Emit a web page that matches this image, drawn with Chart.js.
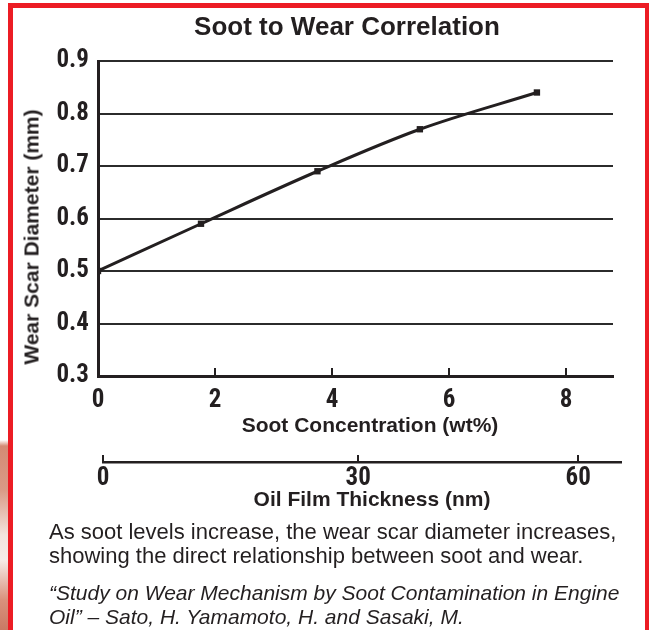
<!DOCTYPE html>
<html>
<head>
<meta charset="utf-8">
<script src="https://cdn.jsdelivr.net/npm/chart.js@4.4.1/dist/chart.umd.min.js"></script>
<style>
  html, body { margin: 0; padding: 0; background: #fff; }
  body { width: 649px; height: 630px; position: relative; overflow: hidden;
         font-family: "Liberation Sans", Arial, Helvetica, sans-serif; color: #231f20; }
  #photo { position: absolute; left: 0; top: 440px; width: 8px; height: 190px;
           background: linear-gradient(to bottom, #fff 0px, #d48a74 6px, #d99a86 50px, #f3e3dd 95px, #f6ece8 120px, #d9917c 160px, #c97a64 190px); }
  #frame { position: absolute; left: 8px; top: 3px; width: 642px; height: 700px;
           border: 5px solid #ec1c24; box-sizing: border-box; }
  .t { position: absolute; white-space: nowrap; line-height: 1; }
  .c { transform: translateX(-50%); }
  #c1 { position: absolute; left: 0; top: 0; }
  #c2 { position: absolute; left: 0; top: 440px; }
</style>
</head>
<body>
<div id="photo"></div>
<div id="frame"></div>
<canvas id="c1" width="649" height="416"></canvas>
<canvas id="c2" width="649" height="80"></canvas>

<div class="t c" id="title" style="left:347px; top:13px; font-size:26px; font-weight:bold;">Soot to Wear Correlation</div>
<div class="t" id="ytitle" style="left:31px; top:237px; font-size:21px; font-weight:bold; transform: translate(-50%,-50%) rotate(-90deg);">Wear Scar Diameter (mm)</div>
<div class="t c" id="xtitle" style="left:370px; top:414px; font-size:21px; font-weight:bold;">Soot Concentration (wt%)</div>
<div class="t c" id="x2title" style="left:372px; top:488px; font-size:21px; font-weight:bold;">Oil Film Thickness (nm)</div>

<div style="position:absolute; left:49px; top:520px; font-size:22px; line-height:24px; white-space:nowrap;">As soot levels increase, the wear scar diameter increases,<br>showing the direct relationship between soot and wear.</div>
<div style="position:absolute; left:49px; top:581px; font-size:21px; line-height:24px; white-space:nowrap; font-style:italic;">“Study on Wear Mechanism by Soot Contamination in Engine<br>Oil” – Sato, H. Yamamoto, H. and Sasaki, M.</div>

<script>
// ---- data ----
const sootConcentration = [0, 1.76, 3.75, 5.5, 7.5];      // wt%
const wearScarDiameter  = [0.50, 0.59, 0.69, 0.77, 0.84]; // mm
const yTickValues = [0.3, 0.4, 0.5, 0.6, 0.7, 0.8, 0.9];
const xTickValues = [0, 2, 4, 6, 8];
// secondary scale: oil film thickness labels and the soot concentration (wt%) they line up with
const filmTickLabels = ['0', '30', '60'];
const filmTickAtSoot = [0.1, 4.45, 8.2];

const INK = '#231f20';
const tickFont = { family: '"Roboto Condensed", Roboto, "DejaVu Sans Condensed", sans-serif', weight: 'bold', size: 25 };

const innerTicks = {
  id: 'innerTicks',
  afterDraw(chart, args, opts) {
    const s = chart.scales.x, ctx = chart.ctx, bottom = chart.chartArea.bottom;
    ctx.save();
    ctx.strokeStyle = INK; ctx.lineWidth = 2;
    s.ticks.forEach(t => {
      if (opts.skipFirst && t.value === s.min) return;
      const px = Math.round(s.getPixelForValue(t.value));
      ctx.beginPath(); ctx.moveTo(px, bottom); ctx.lineTo(px, bottom - opts.len); ctx.stroke();
    });
    ctx.restore();
  }
};

new Chart(document.getElementById('c1'), {
  type: 'line',
  data: {
    datasets: [{
      data: sootConcentration.map((x, i) => ({ x, y: wearScarDiameter[i] })),
      borderColor: INK, borderWidth: 3,
      pointStyle: 'rect', pointRadius: 4.5, pointBackgroundColor: INK, pointBorderWidth: 0,
      cubicInterpolationMode: 'monotone', fill: false
    }]
  },
  options: {
    responsive: false, animation: false,
    layout: { padding: { top: 61, right: 36, left: 0, bottom: 0 } },
    plugins: { legend: { display: false }, tooltip: { enabled: false }, innerTicks: { len: 8, skipFirst: true } },
    scales: {
      x: {
        type: 'linear', min: 0, max: 8.8,
        afterBuildTicks: s => { s.ticks = xTickValues.map(v => ({ value: v })); },
        afterFit: s => { s.height = 40; },
        grid: { display: false, drawTicks: false },
        border: { display: true, color: INK, width: 3 },
        ticks: { font: tickFont, color: INK, padding: 10, callback: v => String(v), maxRotation: 0 }
      },
      y: {
        min: 0.3, max: 0.9,
        afterBuildTicks: s => { s.ticks = yTickValues.map(v => ({ value: v })); },
        afterFit: s => { s.width = 98; },
        grid: { color: '#2b2b2b', lineWidth: 2, drawTicks: false },
        border: { display: true, color: INK, width: 3 },
        ticks: { font: tickFont, color: INK, padding: 9, callback: v => v.toFixed(1) }
      }
    }
  },
  plugins: [innerTicks]
});

new Chart(document.getElementById('c2'), {
  type: 'line',
  data: { datasets: [] },
  options: {
    responsive: false, animation: false,
    layout: { padding: { top: 0, right: 28, left: 103, bottom: 0 } },
    plugins: { legend: { display: false }, tooltip: { enabled: false }, innerTicks: { len: 7, skipFirst: false } },
    scales: {
      x: {
        type: 'linear', min: 0.1, max: 8.93,
        afterBuildTicks: s => { s.ticks = filmTickAtSoot.map(v => ({ value: v })); },
        afterFit: s => { s.height = 58; },
        grid: { display: false, drawTicks: false },
        border: { display: true, color: INK, width: 2.5 },
        ticks: { font: tickFont, color: INK, padding: 2, maxRotation: 0, callback: (v, i) => filmTickLabels[i] }
      },
      y: { display: false, min: 0, max: 1 }
    }
  },
  plugins: [innerTicks]
});
</script>
</body>
</html>
